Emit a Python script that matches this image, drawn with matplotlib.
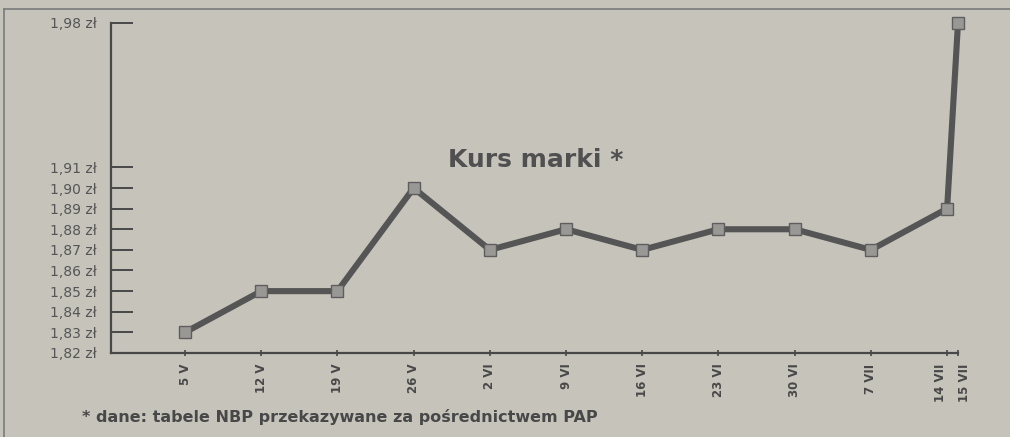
import matplotlib
matplotlib.use("Agg")
import matplotlib.pyplot as plt
import pandas as pd
from matplotlib.lines import Line2D

# Data
dates = ["1995-05-05", "1995-05-12", "1995-05-19", "1995-05-26", "1995-06-02",
         "1995-06-09", "1995-06-16", "1995-06-23", "1995-06-30", "1995-07-07",
         "1995-07-14", "1995-07-15"]
date_labels = ["5 V", "12 V", "19 V", "26 V", "2 VI", "9 VI", "16 VI", "23 VI",
               "30 VI", "7 VII", "14 VII", "15 VII"]
kurs = [1.83, 1.85, 1.85, 1.90, 1.87, 1.88, 1.87, 1.88, 1.88, 1.87, 1.89, 1.98]
ytick_values = [1.82, 1.83, 1.84, 1.85, 1.86, 1.87, 1.88, 1.89, 1.90, 1.91, 1.98]

title = "Kurs marki *"
footnote = "* dane: tabele NBP przekazywane za pośrednictwem PAP"

bg = "#c6c3bb"
ink = "#484848"
line_c = "#555555"

dt = pd.to_datetime(dates)
x = [(d - dt[0]).days for d in dt]

fig = plt.figure(figsize=(10.10, 4.37), dpi=100, facecolor=bg)
ax = fig.add_axes([111/1010, 1 - 353/437, (958 - 111)/1010, (353 - 23)/437])
ax.set_facecolor(bg)

ax.plot(x, kurs, color=line_c, lw=4.4, solid_joinstyle="miter", zorder=3,
        clip_on=False)
ax.plot(x, kurs, linestyle="none", marker="s", ms=8.8, mfc="#9a9895",
        mec="#5e5e5e", mew=1.0, zorder=4, clip_on=False)

ax.set_xlim(-6.8, 71)
ax.set_ylim(1.82, 1.98)

ax.set_yticks(ytick_values)
ax.set_yticklabels([f"{v:.2f}".replace(".", ",") + " zł" for v in ytick_values],
                   fontsize=10, color="#555555", family="DejaVu Sans")
ax.tick_params(axis="y", direction="in", length=15.5, width=1.4, color=ink, pad=10)

ax.set_xticks(x)
ax.set_xticklabels(date_labels, rotation=90, fontsize=8.5, fontweight="bold",
                   color=ink, family="DejaVu Sans")
ax.tick_params(axis="x", direction="inout", length=5, width=1.2, color=ink, pad=5)
xl = ax.get_xticklabels()
xl[-2].set_horizontalalignment("right")
xl[-1].set_horizontalalignment("left")

for s in ["top", "right"]:
    ax.spines[s].set_visible(False)
ax.spines["left"].set_linewidth(1.6)
ax.spines["left"].set_color(ink)
ax.spines["bottom"].set_linewidth(1.6)
ax.spines["bottom"].set_color(ink)

fig.text(536/1010, 1 - 160/437, title, ha="center", va="center", fontsize=18,
         fontweight="bold", color="#505050", family="DejaVu Sans")
fig.text(82/1010, 1 - 417/437, footnote, ha="left", va="center", fontsize=11.5,
         fontweight="bold", color=ink, family="DejaVu Sans")

# newspaper frame
fig.add_artist(Line2D([4/1010, 1], [1 - 9/437, 1 - 9/437], transform=fig.transFigure,
                      color="#7a7a7a", lw=1.2))
fig.add_artist(Line2D([4/1010, 4/1010], [0, 1 - 9/437], transform=fig.transFigure,
                      color="#7a7a7a", lw=1.2))

fig.savefig("out.png", dpi=100, facecolor=bg)
